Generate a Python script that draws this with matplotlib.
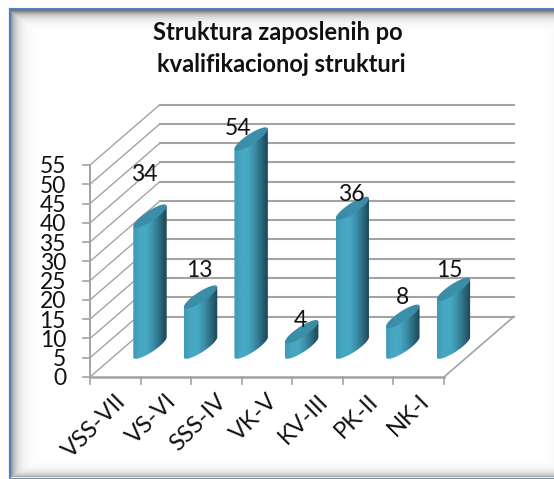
import numpy as np
import matplotlib.pyplot as plt
from matplotlib.colors import LinearSegmentedColormap
from matplotlib.patches import Polygon

categories = ["VSS-VII", "VS-VI", "SSS-IV", "VK-V", "KV-III", "PK-II", "NK-I"]
values = [34, 13, 54, 4, 36, 8, 15]
y_ticks = list(range(0, 60, 5))
title_lines = ["Struktura zaposlenih po", "kvalifikacionoj strukturi"]

# where Excel left the value labels, relative to the top of each bar (category, value units)
label_dx = [-0.11, -0.02, -0.25, -0.02, -0.02, -0.01, -0.09]
label_dy = [10.9, 7.0, 2.6, 2.9, 3.5, 5.0, 4.8]

W, H = 554, 479
plt.rcParams["font.family"] = ["Lato", "DejaVu Sans"]
fig = plt.figure(figsize=(W / 100, H / 100), dpi=100, facecolor="white")

# picture frame with the inner shadow
bg = fig.add_axes([0, 0, 1, 1])
bg.set_xlim(0, W)
bg.set_ylim(H, 0)
bg.axis("off")
xx, yy = np.meshgrid(np.arange(11, W), np.arange(10, 477))
shade = np.maximum.reduce([
    0.40 * np.exp(-(xx - 11) / 6.0),
    0.55 * np.exp(-(yy - 10) / 5.0),
    0.32 * np.exp(-(476 - yy) / 4.0),
    0.02 * np.exp(-(W - 1 - xx) / 6.0),
])
bg.imshow(1 - shade, cmap="gray", vmin=0, vmax=1, extent=(11, W, 477, 10), aspect="auto")
bg.plot([10, 10], [478, 9], color="#4f81bd", lw=1.6)
bg.plot([10, W], [9, 9], color="#4f81bd", lw=1.5)
bg.plot([10, W], [477.5, 477.5], color="#7f8fa8", lw=1.0)
bg.set_xlim(0, W)
bg.set_ylim(H, 0)

# chart axes fill the figure: x in categories, y in value units
px_cat = (444 - 90) / len(categories)
px_val = (377 - 165) / 55
ax = fig.add_axes([0, 0, 1, 1])
ax.patch.set_alpha(0)
ax.axis("off")

depth_x = 70 / px_cat
depth_y = 60.5 / px_val
n = len(categories)
grid_c = "#a3a3a3"

# back and side walls
for v in y_ticks:
    ax.plot([0, depth_x], [v, v + depth_y], color=grid_c, lw=1.0, zorder=1, solid_capstyle="round")
    ax.plot([depth_x, n + depth_x], [v + depth_y, v + depth_y], color=grid_c, lw=1.5, zorder=1)
    ax.plot([-7 / px_cat, 0], [v, v], color=grid_c, lw=1.2, zorder=1)
    ax.text(-24 / px_cat, v - 0.5, str(v), ha="right", va="center", fontsize=16.5, color="#111111")

# floor and axes
ax.plot([0, n], [0, 0], color=grid_c, lw=1.8, zorder=1)
ax.plot([n, n + depth_x], [0, depth_y], color=grid_c, lw=1.2, zorder=1)
ax.plot([0, 0], [0, 55], color=grid_c, lw=1.4, zorder=1)
for i in range(n + 1):
    ax.plot([i, i], [0, -7 / px_val], color=grid_c, lw=1.2, zorder=1)

body_cmap = LinearSegmentedColormap.from_list(
    "body", ["#3f9ab5", "#47a8c4", "#47a8c4", "#3d8fa8", "#2b6b80", "#1d4453"])
top_cmap = LinearSegmentedColormap.from_list("top", ["#3a8ba6", "#3d90aa", "#3a8ca6"])
ramp = np.linspace(0, 1, 64).reshape(1, -1)

# half axes of the oblique cylinder ellipse
ax_x = 16.7 / px_cat
ax_y = 10.0 / px_val
bulge = 6.0 / px_val
t_low = np.linspace(np.pi, 2 * np.pi, 50)
t_all = np.linspace(0, 2 * np.pi, 100)

for i, v in enumerate(values):
    cx = i + 0.5 + depth_x * 0.5 - 0.006
    base = depth_y * 0.5 - 0.1
    low_x = cx + np.cos(t_low) * ax_x
    low_y = base + np.cos(t_low) * ax_y + np.sin(t_low) * bulge
    body = np.column_stack([
        np.r_[low_x, cx + ax_x, cx - ax_x],
        np.r_[low_y, base + v + ax_y, base + v - ax_y],
    ])
    im = ax.imshow(ramp, cmap=body_cmap, aspect="auto", zorder=3,
                   extent=(cx - ax_x, cx + ax_x, base - 2 * ax_y, base + v + 2 * ax_y))
    im.set_clip_path(Polygon(body, closed=True, transform=ax.transData))

    lens = np.column_stack([
        cx + np.cos(t_all) * ax_x,
        base + v + np.cos(t_all) * ax_y + np.sin(t_all) * bulge,
    ])
    top = ax.imshow(ramp, cmap=top_cmap, aspect="auto", zorder=4,
                    extent=(cx - ax_x, cx + ax_x, base + v - 2 * ax_y, base + v + 2 * ax_y))
    top.set_clip_path(Polygon(lens, closed=True, transform=ax.transData))

    ax.text(cx + label_dx[i], v + base + label_dy[i], str(v), ha="center", va="center",
            fontsize=16.5, color="#111111", zorder=5)

ax.set_xlim(-90 / px_cat, (W - 90) / px_cat)
ax.set_ylim((377 - H) / px_val, 377 / px_val)

for i, name in enumerate(categories):
    ax.text(i + 0.49, -3.5, name, rotation=45, rotation_mode="anchor", ha="right", va="top",
            fontsize=17, color="#111111")

fig.text(278 / W, 1 - 33 / H, title_lines[0], ha="center", va="center", fontsize=17,
         fontweight="bold", color="#111111")
fig.text(281 / W, 1 - 65 / H, title_lines[1], ha="center", va="center", fontsize=17,
         fontweight="bold", color="#111111")

fig.savefig("out.png", dpi=100)
